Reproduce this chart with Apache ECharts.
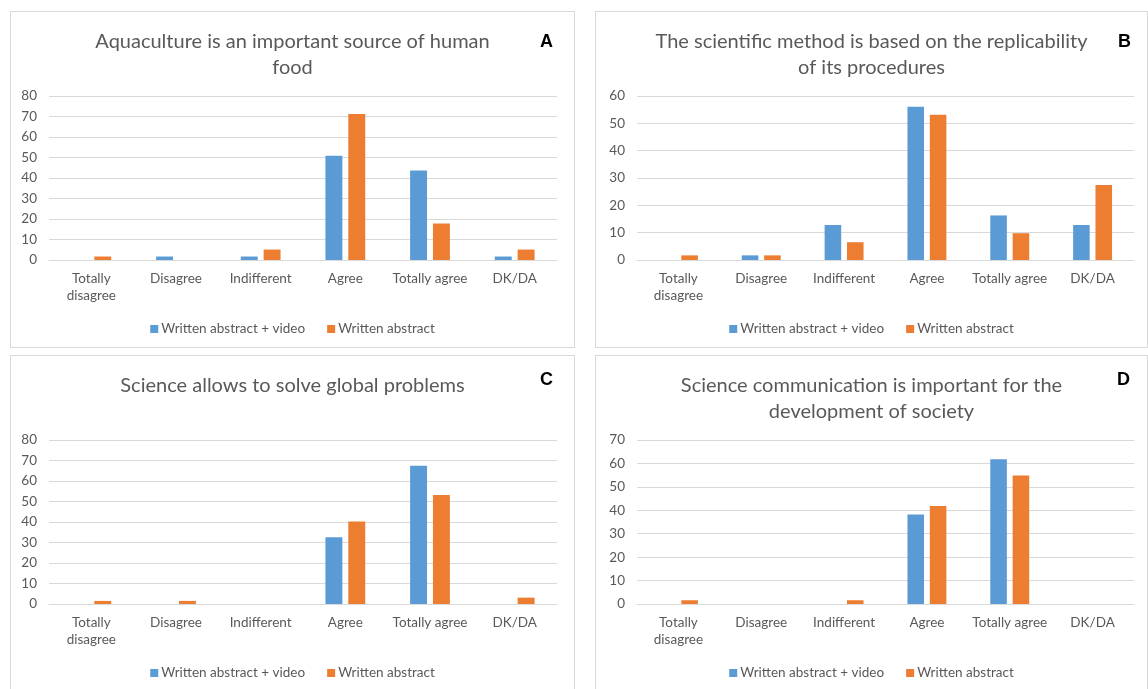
<!DOCTYPE html>
<html>
	<head>
		<meta charset="utf-8">
		<title>Survey charts</title>
		<style type="text/css">
			* {
				margin: 0;
				padding: 0;
			}

			html,
			body {
				width: 1148px;
				height: 689px;
				background: #fff;
				overflow: hidden;
			}

			.panel {
				position: absolute;
				border: 1px solid #d9d9d9;
				box-sizing: border-box;
				background: #fff;
			}
		</style>
	</head>
	<body>
		<div class="panel" id="boxA" style="left:10px;top:11px;width:565px;height:337px;"></div>
		<div class="panel" id="boxB" style="left:595px;top:11px;width:553px;height:337px;"></div>
		<div class="panel" id="boxC" style="left:10px;top:355px;width:565px;height:340px;"></div>
		<div class="panel" id="boxD" style="left:595px;top:355px;width:553px;height:340px;"></div>
		<script src="https://cdn.jsdelivr.net/npm/echarts@6/dist/echarts.min.js"></script>
		<script type="text/javascript">
			var categories = ['Totally\ndisagree', 'Disagree', 'Indifferent', 'Agree', 'Totally agree', 'DK/DA']
			var seriesNames = ['Written abstract + video', 'Written abstract']

			// A
			var videoA = [0, 1.7, 1.7, 50.8, 43.6, 1.7]
			var abstractA = [1.7, 0, 5.1, 71.2, 17.8, 5.1]
			// B
			var videoB = [0, 1.7, 12.8, 56.1, 16.3, 12.8]
			var abstractB = [1.7, 1.7, 6.5, 53.1, 9.8, 27.4]
			// C
			var videoC = [0, 0, 0, 32.6, 67.4, 0]
			var abstractC = [1.5, 1.5, 0, 40.3, 53.2, 3.1]
			// D
			var videoD = [0, 0, 0, 38.2, 61.8, 0]
			var abstractD = [1.6, 0, 1.6, 41.8, 54.8, 0]

			var titles = [
				'Aquaculture is an important source of human\nfood',
				'The scientific method is based on the replicability\nof its procedures',
				'Science allows to solve global problems',
				'Science communication is important for the\ndevelopment of society'
			]
			var letters = ['A', 'B', 'C', 'D']
			var yMax = [80, 60, 80, 70]

			var fontName = 'Lato'

			function makeChart(id, idx, video, abstr, gridLeft, gridRight, letterX) {
				var chart = echarts.init(document.getElementById(id))
				var option = {
					animation: false,
					color: ['#5b9bd5', '#ed7d31'],
					textStyle: {
						fontFamily: fontName
					},
					title: {
						text: titles[idx],
						left: 'center',
						top: 12,
						textStyle: {
							fontFamily: fontName,
							fontWeight: 'normal',
							fontSize: 20,
							lineHeight: 26,
							color: '#595959'
						}
					},
					graphic: [{
						type: 'text',
						left: letterX,
						top: idx < 2 ? 21 : 15,
						style: {
							text: letters[idx],
							fontFamily: 'Liberation Sans',
							fontWeight: 'bold',
							fontSize: 18,
							fill: '#000'
						}
					}],
					legend: {
						data: seriesNames,
						left: 'center',
						top: 305,
						itemWidth: 8,
						itemHeight: 8,
						itemGap: 22,
						icon: 'rect',
						textStyle: {
							fontFamily: fontName,
							fontSize: 13.5,
							color: '#595959',
							padding: [0, 0, 0, -2]
						}
					},
					grid: {
						left: gridLeft,
						right: gridRight,
						top: 84,
						height: 164
					},
					xAxis: {
						type: 'category',
						data: categories,
						axisLine: {
							lineStyle: {
								color: '#d9d9d9'
							}
						},
						axisTick: {
							show: false
						},
						axisLabel: {
							interval: 0,
							margin: 10,
							color: '#595959',
							fontSize: 13.5,
							lineHeight: 17
						}
					},
					yAxis: {
						type: 'value',
						min: 0,
						max: yMax[idx],
						interval: 10,
						axisLine: {
							show: false
						},
						axisTick: {
							show: false
						},
						axisLabel: {
							color: '#595959',
							fontSize: 13.5,
							margin: 12
						},
						splitLine: {
							lineStyle: {
								color: '#d9d9d9'
							}
						}
					},
					series: [{
						name: seriesNames[0],
						type: 'bar',
						barWidth: '20%',
						barGap: '35%',
						data: video
					}, {
						name: seriesNames[1],
						type: 'bar',
						barWidth: '20%',
						barGap: '35%',
						data: abstr
					}]
				}
				chart.setOption(option)
			}

			makeChart('boxA', 0, videoA, abstractA, 38, 17, 529)
			makeChart('boxB', 1, videoB, abstractB, 41, 13, 522)
			makeChart('boxC', 2, videoC, abstractC, 38, 17, 529)
			makeChart('boxD', 3, videoD, abstractD, 41, 13, 521)
		</script>
	</body>
</html>
